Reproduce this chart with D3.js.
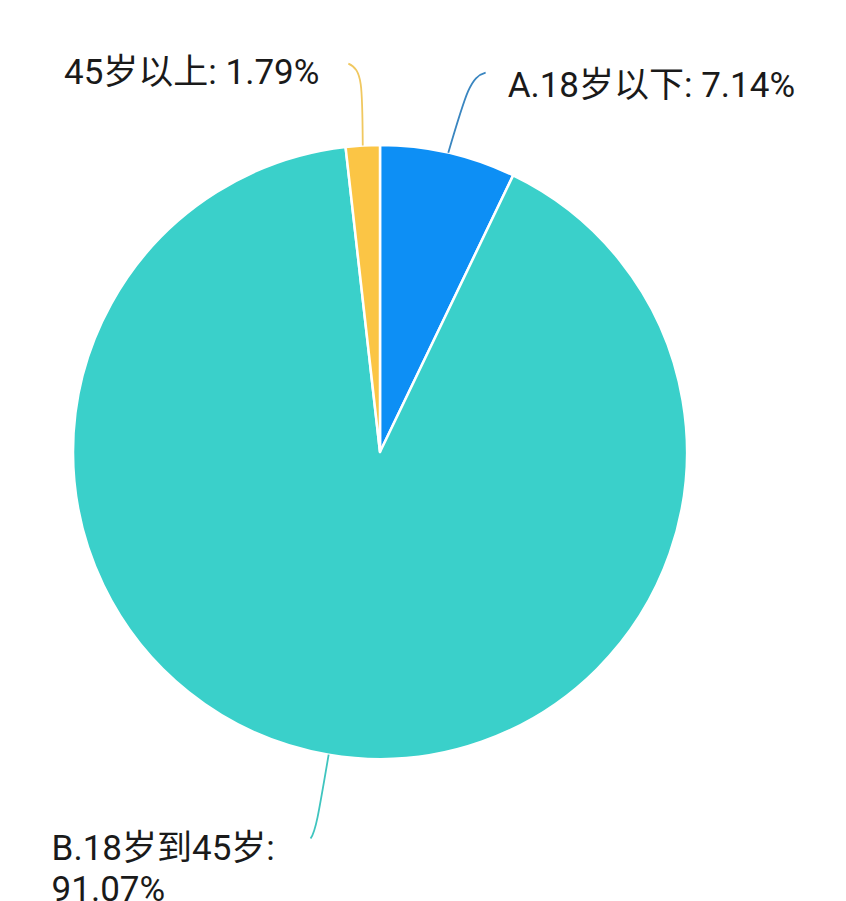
<!DOCTYPE html>
<html><head><meta charset="utf-8">
<script src="https://cdn.jsdelivr.net/npm/d3@7"></script>
<style>html,body{margin:0;padding:0;background:#fff;}</style>
</head><body>
<svg id="chart" width="846" height="901"></svg>
<script>
const categories = ["A.18岁以下", "B.18岁到45岁", "45岁以上"];
const values = [7.14, 91.07, 1.79];
const labelTexts = ["A.18岁以下: 7.14%", "B.18岁到45岁:|91.07%", "45岁以上: 1.79%"];
const colors = ["#0d8ff5", "#3ad0ca", "#fbc545"];
const lineColors = ["#3a86c0", "#3fc5bf", "#f0c860"];

const W = 846, H = 901, cx = 380, cy = 452, R = 307;
const svg = d3.select("#chart");
const g = svg.append("g").attr("transform", `translate(${cx},${cy})`);

const data = categories.map((c, i) => ({ c, v: values[i], t: labelTexts[i], i }));
const pie = d3.pie().value(d => d.v).sort(null);
const arcs = pie(data);
const arc = d3.arc().innerRadius(0).outerRadius(R);

g.selectAll("path.slice").data(arcs).join("path")
  .attr("class", "slice")
  .attr("d", arc)
  .attr("fill", d => colors[d.data.i])
  .attr("stroke", "#fff")
  .attr("stroke-width", 2.5)
  .attr("stroke-linejoin", "round");

// label lines
const lineR = [385, 385, 385];
const hook = [[15, -4], [-5, 7], [-14, -6]];
const elbowAdj = [[5, 0], [0, 0], [4, 2]];
function pt(a, r) { return [Math.sin(a) * r, -Math.cos(a) * r]; }
arcs.forEach(d => {
  const i = d.data.i;
  const m = (d.startAngle + d.endAngle) / 2;
  const p0 = pt(m, R);
  const p1 = pt(m, lineR[i]); p1[0] += elbowAdj[i][0]; p1[1] += elbowAdj[i][1];
  const p2 = [p1[0] + hook[i][0], p1[1] + hook[i][1]];
  const path = d3.path();
  path.moveTo(p0[0], p0[1]);
  const c1 = [p0[0] + (p1[0] - p0[0]) * 0.8, p0[1] + (p1[1] - p0[1]) * 0.8];
  path.bezierCurveTo(c1[0], c1[1], p1[0], p1[1], p2[0], p2[1]);
  g.append("path").attr("d", path.toString())
    .attr("fill", "none").attr("stroke", lineColors[i]).attr("stroke-width", 1.8);
  d.p2 = p2;
});

// labels (anchor per slice relative to line end)
const labelOff = [[22, 24, "start"], [-259, 21, "start"], [-29, 20, "end"]];
arcs.forEach(d => {
  const i = d.data.i;
  const lines = d.data.t.split("|");
  const x = d.p2[0] + labelOff[i][0];
  const t = g.append("text")
    .attr("x", x)
    .attr("y", d.p2[1] + labelOff[i][1])
    .attr("text-anchor", labelOff[i][2])
    .attr("font-family", "Roboto,'Noto Sans CJK SC',sans-serif")
    .attr("font-size", 35)
    .attr("fill", "#1a1a1a");
  lines.forEach((s, j) => {
    t.append("tspan").attr("x", x).attr("dy", j === 0 ? 0 : 41).text(s);
  });
});
</script>
</body></html>
